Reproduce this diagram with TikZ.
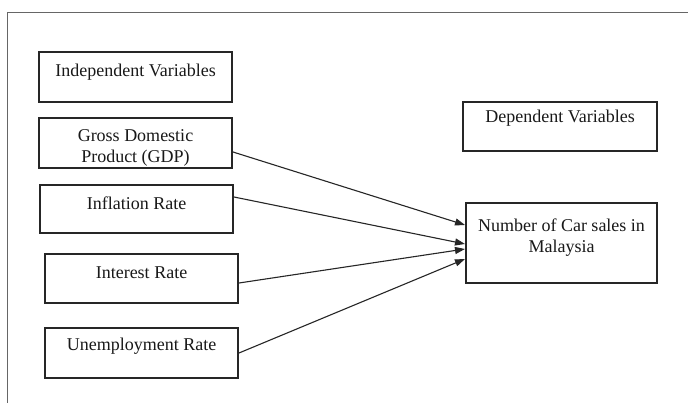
\documentclass[tikz,border=0pt]{standalone}
\usepackage{fontspec}
\setmainfont{Liberation Serif}
\usetikzlibrary{arrows.meta}
\begin{document}
\begin{tikzpicture}[x=1pt,y=-1pt,
  box/.style={draw=black!85,line width=2pt,inner sep=0pt,minimum width=#1},
  txt/.style={font=\fontsize{18}{21}\selectfont,align=center,inner sep=0pt,text=black!90},
  arr/.style={draw=black!85,line width=1.1pt,-{Triangle[length=10pt,width=7pt]}}]
\useasboundingbox (0,0) rectangle (688,403);
\fill[white] (0,0) rectangle (688,403);
\draw[black!60,line width=0.9pt] (7.5,403) -- (7.5,12) -- (688,12);
% boxes
\node[box=193pt,minimum height=50pt] (ivb) at (135.5,77) {};
\node[box=193pt,minimum height=50pt] (gdp) at (135.5,143) {};
\node[box=193pt,minimum height=48pt] (inf) at (136.5,209) {};
\node[box=193pt,minimum height=49pt] (int) at (141.5,278.5) {};
\node[box=193pt,minimum height=50pt] (une) at (141.5,353) {};
\node[box=194pt,minimum height=49pt] (dvb) at (560,126.5) {};
\node[box=191pt,minimum height=80pt] (car) at (561.5,243) {};
% texts
\node[txt] (ivt) at (135.5,72) {Independent Variables};
\node[txt] (gdpt) at (135.5,147.5) {Gross Domestic\\Product (GDP)};
\node[txt] (inft) at (136.5,203) {Inflation Rate};
\node[txt] (intt) at (141.5,273) {Interest Rate};
\node[txt] (unet) at (141.5,346) {Unemployment Rate};
\node[txt] (dvt) at (560,118) {Dependent Variables};
\node[txt] (cart) at (561.5,237.5) {Number of Car sales in\\Malaysia};
% arrows
\draw[arr] ([yshift=-9pt]gdp.east) -- ([yshift=18pt]car.west);
\draw[arr] ([yshift=12pt]inf.east) -- ([yshift=-1pt]car.west);
\draw[arr] ([yshift=-4.5pt]int.east) -- ([yshift=-6pt]car.west);
\draw[arr] ([yshift=0pt]une.east) -- ([yshift=-16pt]car.west);
\end{tikzpicture}
\end{document}
